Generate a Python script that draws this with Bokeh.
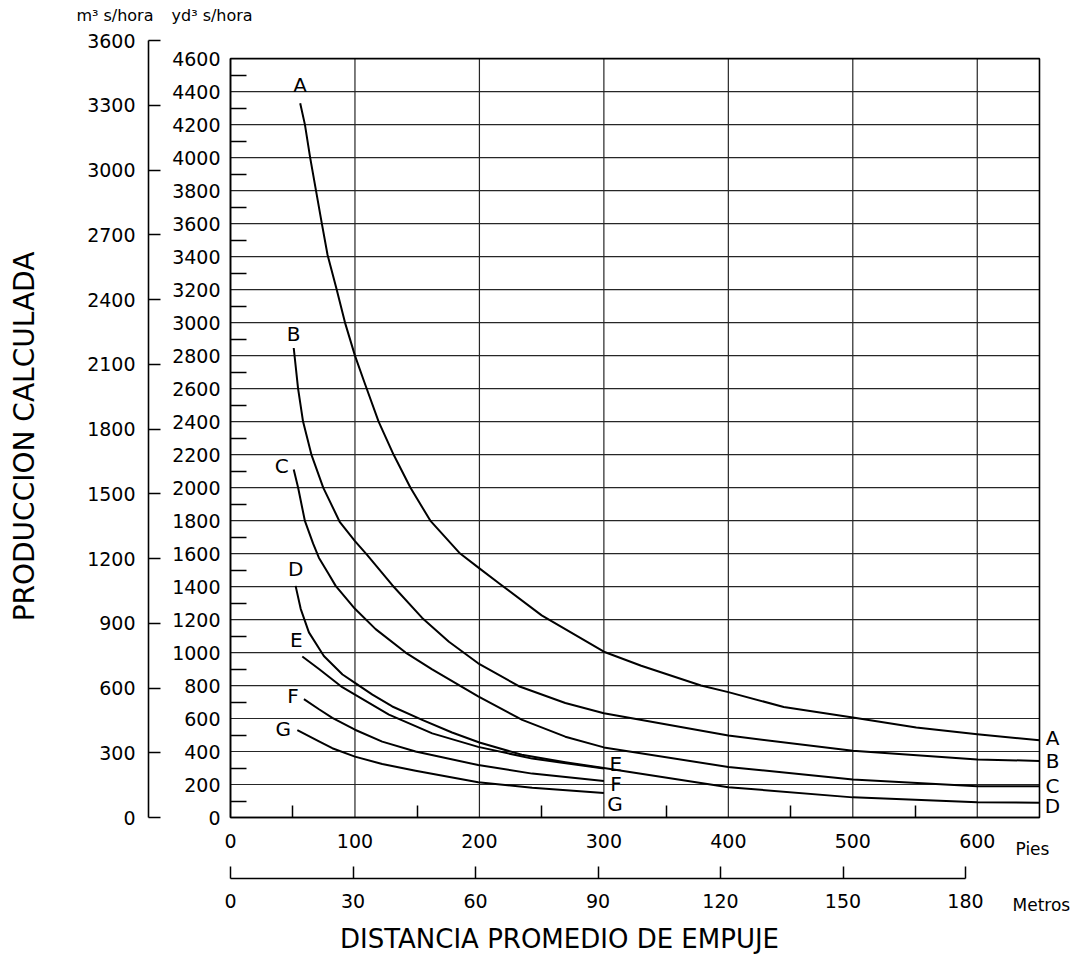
import math
from bokeh.plotting import figure
from bokeh.models import LinearAxis, Range1d, FixedTicker, Label
from bokeh.embed import file_html
from bokeh.resources import INLINE

# ---------------- data ----------------
curve_names = ["A", "B", "C", "D", "E", "F", "G"]

a_x = [56, 59.8, 64, 68.7, 73.4, 78, 85, 92, 100, 107.5, 119, 131, 144.5, 160.5, 184.5, 200, 215.7, 250, 300, 330, 378, 400, 444.5, 500, 551, 600, 650]
a_y = [4330, 4200, 4000, 3800, 3600, 3410, 3210, 3000, 2800, 2640, 2400, 2200, 2000, 1800, 1600, 1510, 1420, 1225, 1005, 920, 800, 760, 670, 606, 545, 505, 468]

b_x = [50.8, 54.3, 58.3, 65, 74.5, 87.9, 100, 109.4, 130, 154, 175.5, 199, 231.7, 269, 300, 400, 500, 600, 650]
b_y = [2846, 2600, 2400, 2200, 2000, 1790, 1675, 1595, 1408, 1210, 1065, 935, 796, 694, 632, 497, 404, 352, 343]

c_x = [50.8, 54.3, 59.7, 66.4, 71, 78.5, 84.5, 100, 116.6, 140.7, 162, 199, 234.4, 269, 300, 400, 500, 600, 650]
c_y = [2110, 2000, 1800, 1660, 1575, 1480, 1404, 1265, 1142, 1000, 898, 734, 592, 490, 425, 306, 231, 190, 190]

d_x = [52.3, 56.4, 63, 75, 90, 100, 114, 130, 154, 178, 200, 234, 269, 300, 400, 500, 600, 650]
d_y = [1404, 1265, 1122, 979, 867, 816, 745, 673, 592, 515, 455, 380, 335, 300, 184, 122, 92, 90]

e_x = [57.7, 71.1, 89.8, 100, 127.3, 162.1, 199, 242.4, 300]
e_y = [976, 900, 790, 745, 624, 510, 428, 357, 297]

f_x = [59, 71.1, 81.8, 100, 121.9, 148.7, 199, 242.4, 300]
f_y = [718, 656, 604, 532, 460, 400, 318, 266, 221]

g_x = [53.7, 71.1, 81.8, 100, 121.9, 148.7, 199, 242.4, 300]
g_y = [529, 461, 420, 369, 324, 283, 214, 180, 149]

yd_ticks = list(range(0, 4601, 200))
yd_minor = list(range(100, 4600, 200))
yd_grid = list(range(200, 4401, 200))
m3_ticks = list(range(0, 3601, 300))
ft_ticks = list(range(0, 601, 100))
ft_minor = list(range(50, 551, 100))
ft_grid = list(range(100, 601, 100))
m_ticks = list(range(0, 181, 30))

y_unit_left = "m³ s/hora"
y_unit_right = "yd³ s/hora"
x_unit_ft = "Pies"
x_unit_m = "Metros"
y_title = "PRODUCCION CALCULADA"
x_title = "DISTANCIA PROMEDIO DE EMPUJE"

YD_PER_M3 = 1.30795
M_PER_FT = 0.3048
X_MAX = 650
Y_MAX = 4600
M3_MAX = 3600
M_MAX = 180

curves = {
    "A": (a_x, a_y), "B": (b_x, b_y), "C": (c_x, c_y), "D": (d_x, d_y),
    "E": (e_x, e_y), "F": (f_x, f_y), "G": (g_x, g_y),
}

# ---------------- layout / style ----------------
FONT = "DejaVu Sans"
W, H = 1080, 956
X0_PX, PPX = 230.0, 1.2446      # canvas x of 0 ft, px per ft
Y0_PX, PPY = 817.0, 0.164968    # canvas y of 0 yd3, px per yd3


def cx(px):  # canvas x -> data x (ft)
    return (px - X0_PX) / PPX


def cy(py):  # canvas y -> data y (yd3)
    return (Y0_PX - py) / PPY


XR = (cx(0), cx(W))
YR = (cy(H), cy(0))

p = figure(width=W, height=H, x_range=Range1d(*XR), y_range=Range1d(*YR),
           output_backend="svg", toolbar_location=None,
           x_axis_location=None, y_axis_location=None,
           min_border=0, min_border_left=0, min_border_right=0,
           min_border_top=0, min_border_bottom=0,
           outline_line_color=None,
           background_fill_color="white", border_fill_color="white")
p.grid.visible = False
p.extra_y_ranges = {"m3": Range1d(YR[0] / YD_PER_M3, YR[1] / YD_PER_M3)}
p.extra_x_ranges = {"m": Range1d(XR[0] * M_PER_FT, XR[1] * M_PER_FT)}

GRID_COLOR = "#262626"
# vertical grid lines (feet) and horizontal grid lines (yd3), limited to the chart box
p.segment(x0=ft_grid, y0=[0] * len(ft_grid), x1=ft_grid, y1=[Y_MAX] * len(ft_grid),
          line_color=GRID_COLOR, line_width=1.2)
p.segment(x0=[0] * len(yd_grid), y0=yd_grid, x1=[X_MAX] * len(yd_grid), y1=yd_grid,
          line_color=GRID_COLOR, line_width=1.2)

# chart box
p.quad(left=[0], right=[X_MAX], bottom=[0], top=[Y_MAX], fill_color=None,
       line_color="black", line_width=1.6)

TICK_FS = "19px"

yd_axis = LinearAxis(
    fixed_location=0,
    ticker=FixedTicker(ticks=yd_ticks, minor_ticks=yd_minor), bounds=(0, Y_MAX),
    axis_line_color="black", axis_line_width=1.5,
    major_tick_line_color=None, major_tick_in=0, major_tick_out=0,
    minor_tick_in=16, minor_tick_out=0, minor_tick_line_color="black", minor_tick_line_width=1.5,
    major_label_standoff=10, major_label_text_font=FONT, major_label_text_font_size=TICK_FS,
    major_label_text_color="black")
p.add_layout(yd_axis, "left")

m3_axis = LinearAxis(
    fixed_location=cx(148),
    y_range_name="m3", ticker=FixedTicker(ticks=m3_ticks, minor_ticks=[]), bounds=(0, M3_MAX),
    axis_line_color="black", axis_line_width=1.6,
    major_tick_in=12, major_tick_out=0, major_tick_line_width=1.5, major_tick_line_color="black",
    minor_tick_line_color=None,
    major_label_standoff=13, major_label_text_font=FONT, major_label_text_font_size=TICK_FS,
    major_label_text_color="black")
p.add_layout(m3_axis, "left")

ft_axis = LinearAxis(
    fixed_location=0,
    ticker=FixedTicker(ticks=ft_ticks, minor_ticks=ft_minor), bounds=(0, X_MAX),
    axis_line_color="black", axis_line_width=1.6,
    major_tick_line_color=None, major_tick_in=0, major_tick_out=0,
    minor_tick_in=12, minor_tick_out=0, minor_tick_line_color="black", minor_tick_line_width=1.5,
    major_label_standoff=16, major_label_text_font=FONT, major_label_text_font_size=TICK_FS,
    major_label_text_color="black")
p.add_layout(ft_axis, "below")

m_axis = LinearAxis(
    fixed_location=cy(878),
    x_range_name="m", ticker=FixedTicker(ticks=m_ticks, minor_ticks=[]), bounds=(0, M_MAX),
    axis_line_color="black", axis_line_width=1.6,
    major_tick_in=12, major_tick_out=0, major_tick_line_width=1.5, major_tick_line_color="black",
    minor_tick_line_color=None,
    major_label_standoff=15, major_label_text_font=FONT, major_label_text_font_size=TICK_FS,
    major_label_text_color="black")
p.add_layout(m_axis, "below")

# curves
for name in curve_names:
    xs, ys = curves[name]
    p.line(xs, ys, line_color="black", line_width=2, line_join="round")

LABEL_FS = "20px"
start_off = {"A": (0, 18), "B": (0, 14), "C": (-12, 3), "D": (0, 17),
             "E": (-6, 16), "F": (-11, 3), "G": (-14, 1)}
end_off = {"A": (13, 2), "B": (13, 0), "C": (13, 0), "D": (13, -3),
           "E": (12, 5), "F": (12, -3), "G": (11, -11)}
for name in curve_names:
    xs, ys = curves[name]
    ox, oy = start_off[name]
    p.add_layout(Label(x=xs[0], y=ys[0], x_offset=ox, y_offset=oy, text=name,
                       text_font=FONT, text_font_size=LABEL_FS, text_align="center",
                       text_baseline="middle", text_color="black"))
    ox, oy = end_off[name]
    p.add_layout(Label(x=xs[-1], y=ys[-1], x_offset=ox, y_offset=oy, text=name,
                       text_font=FONT, text_font_size=LABEL_FS, text_align="center",
                       text_baseline="middle", text_color="black"))

# unit and title texts
p.add_layout(Label(x=cx(153), y=cy(15), text=y_unit_left, text_font=FONT, text_font_size="16px",
                   text_align="right", text_baseline="middle", text_color="black"))
p.add_layout(Label(x=cx(171), y=cy(15), text=y_unit_right, text_font=FONT, text_font_size="16px",
                   text_align="left", text_baseline="middle", text_color="black"))
p.add_layout(Label(x=cx(1015), y=cy(848), text=x_unit_ft, text_font=FONT, text_font_size="17px",
                   text_align="left", text_baseline="middle", text_color="black"))
p.add_layout(Label(x=cx(1012), y=cy(904), text=x_unit_m, text_font=FONT, text_font_size="17px",
                   text_align="left", text_baseline="middle", text_color="black"))
p.add_layout(Label(x=cx(559), y=cy(938), text=x_title, text_font=FONT, text_font_size="26px",
                   text_align="center", text_baseline="middle", text_color="black"))
p.add_layout(Label(x=cx(24), y=cy(436), text=y_title, text_font=FONT, text_font_size="28px",
                   angle=math.pi / 2, text_align="center", text_baseline="middle",
                   text_color="black"))

open("out.html", "w").write(file_html(p, INLINE))
